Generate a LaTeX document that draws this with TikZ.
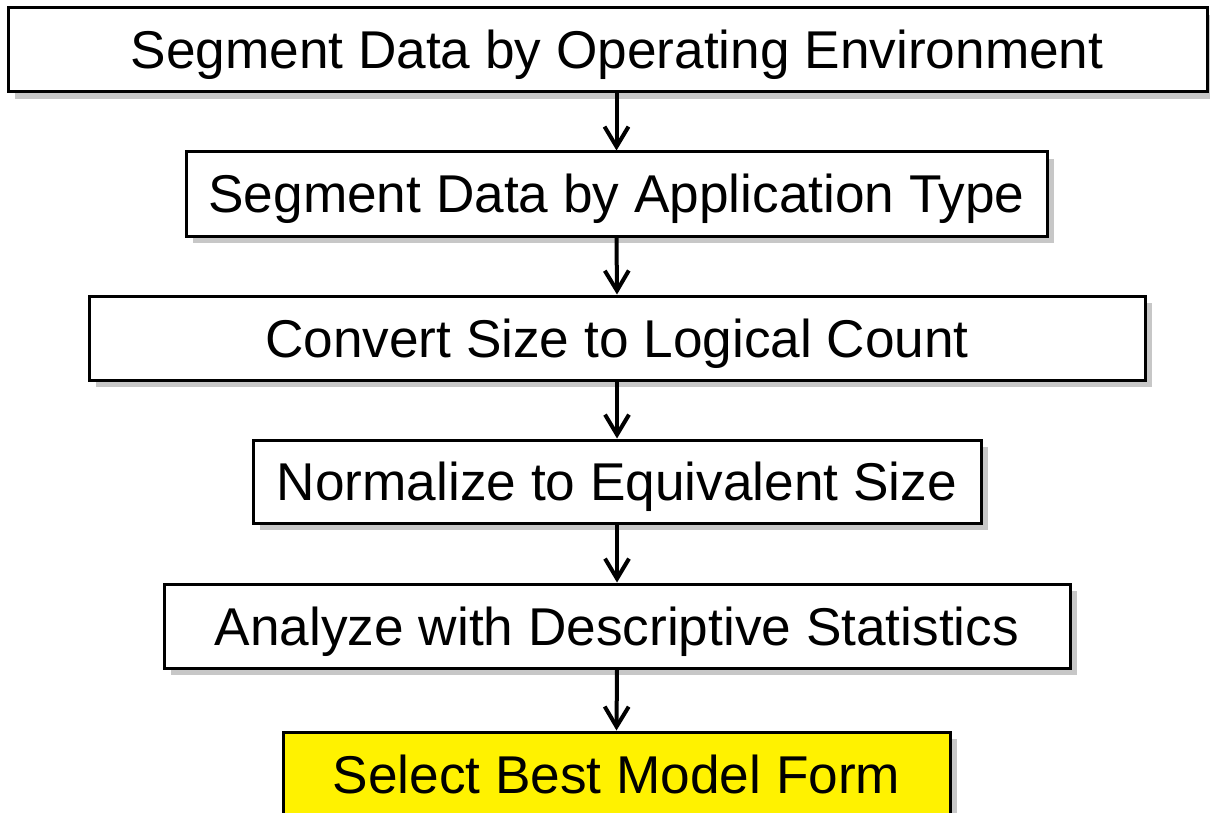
\documentclass[tikz,border=0pt]{standalone}
\usepackage{fontspec}
\setmainfont{Liberation Sans}
\usetikzlibrary{arrows.meta,shadows}
\tikzset{
  stepbox/.style={draw=black, line width=1.5pt, fill=white, inner sep=0pt,
    text height=19pt, text depth=0pt,
    font=\fontsize{26.6pt}{32pt}\selectfont,
    drop shadow={shadow xshift=3.5pt, shadow yshift=-3.5pt, fill=black!22, opacity=1}},
  hilite/.style={fill=yellow},
  txt/.style={inner sep=0pt, text height=19pt, text depth=0pt,
    font=\fontsize{26.6pt}{32pt}\selectfont},
  arr/.style={line width=2pt, -{Straight Barb[length=10pt,width=12pt]}}
}
\begin{document}
\begin{tikzpicture}[x=0.5pt,y=-0.5pt]
\useasboundingbox (0,0) rectangle (1210,813);
\node[stepbox, minimum width=599.5pt, minimum height=42pt] (b1) at (607.5,50) {};
\node[txt] (t1) at (617,50) {Segment Data by Operating Environment};
\node[stepbox, minimum width=430.5pt, minimum height=42pt] (b2) at (616.5,194) {Segment Data by Application Type};
\node[stepbox, minimum width=528pt, minimum height=42pt] (b3) at (617,338) {Convert Size to Logical Count};
\node[stepbox, minimum width=364pt, minimum height=41.5pt] (b4) at (617,481.5) {Normalize to Equivalent Size};
\node[stepbox, minimum width=453pt, minimum height=42pt] (b5) at (617,626) {Analyze with Descriptive Statistics};
\node[stepbox, hilite, minimum width=333.5pt, minimum height=42pt] (b6) at (616.5,774) {Select Best Model Form};
\draw[arr] (b1.south -| b2.north) -- (b2.north);
\draw[arr] (b2.south) -- (b3.north);
\draw[arr] (b3.south) -- (b4.north);
\draw[arr] (b4.south) -- (b5.north);
\draw[arr] (b5.south) -- (b6.north);
\end{tikzpicture}
\end{document}
